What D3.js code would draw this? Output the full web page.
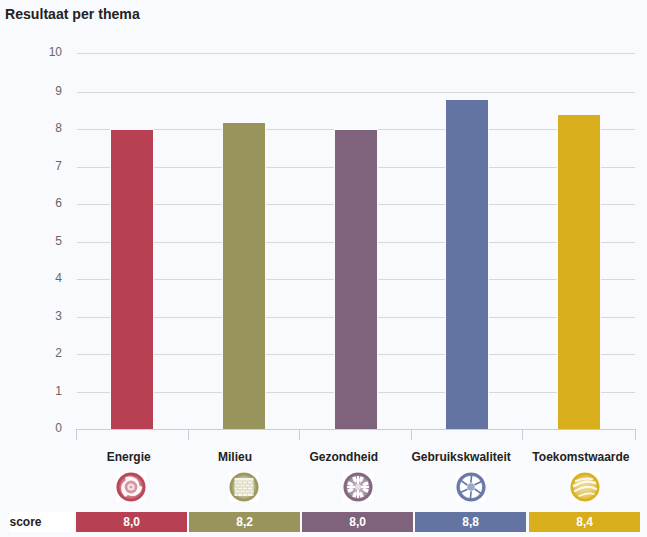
<!DOCTYPE html>
<html><head><meta charset="utf-8">
<script src="https://cdn.jsdelivr.net/npm/d3@7"></script>
<style>
html,body{margin:0;padding:0;background:#f9fafd;}
svg{display:block;font-family:"Liberation Sans",Arial,sans-serif;}
</style></head><body><div id="c"></div>
<script>
const title = "Resultaat per thema";
const categories = ["Energie","Milieu","Gezondheid","Gebruikskwaliteit","Toekomstwaarde"];
const values = [8.0,8.2,8.0,8.8,8.4];
const scoreLabels = ["8,0","8,2","8,0","8,8","8,4"];
const colors = ["#b74153","#99945b","#7f627c","#6374a3","#d8ae1c"];
const iconNames = ["energy","wall","health","shutter","sphere"];
const yTicks = [0,1,2,3,4,5,6,7,8,9,10];
const rowLabel = "score";

const BG="#f9fafd", W=647,H=537;
const svg=d3.select("#c").append("svg").attr("width",W).attr("height",H);
const defs=svg.append("defs");
const x=d3.scaleBand().domain(categories).range([76.5,635.5]);
const barW=42;
const axisX=d3.scaleBand().domain(categories).range([76.5,634.5]);
const y=d3.scaleLinear().domain([0,9,10]).range([429.5,92,53.5]);
const row=v=>Math.floor(y(v));
const cell=d3.scaleBand().domain(categories).range([76,640.6]).paddingInner(0.0176).paddingOuter(0);
const iconX=d3.scaleBand().domain(categories).range([74.25,641.75]);

svg.append("text").attr("x",5).attr("y",19).attr("font-size",14.1).attr("font-weight",700).attr("fill","#222").text(title);

svg.append("g").attr("shape-rendering","crispEdges").selectAll("line").data(yTicks.slice(1)).join("line")
 .attr("x1",77).attr("x2",635).attr("y1",d=>row(d)+.5).attr("y2",d=>row(d)+.5)
 .attr("stroke","#d8d8d8").attr("stroke-width",1);
svg.append("g").selectAll("text").data(yTicks).join("text")
 .attr("x",62).attr("y",d=>row(d)+3).attr("text-anchor","end").attr("font-size",12).attr("fill","#666").text(d=>d);

const barX=d=>Math.floor(x(d)+x.bandwidth()/2-barW/2);
const bars=svg.append("g").attr("shape-rendering","crispEdges");
bars.selectAll("rect.gap").data(categories).join("rect").attr("class","gap")
 .attr("x",d=>barX(d)-1).attr("width",barW+2)
 .attr("y",(d,i)=>Math.ceil(y(values[i]))-1).attr("height",(d,i)=>429-Math.ceil(y(values[i]))+1)
 .attr("fill",BG);
bars.selectAll("rect.bar").data(categories).join("rect").attr("class","bar")
 .attr("x",barX).attr("width",barW)
 .attr("y",(d,i)=>Math.ceil(y(values[i]))).attr("height",(d,i)=>429-Math.ceil(y(values[i])))
 .attr("fill",(d,i)=>colors[i]);

const ag=svg.append("g").attr("shape-rendering","crispEdges").attr("transform","translate(0,429.5)");
ag.append("line").attr("x1",76).attr("x2",636).attr("stroke","#c0d0e0");
const edges=categories.map(c=>Math.floor(axisX(c))).concat([635]);
ag.selectAll("line.t").data(edges).join("line").attr("class","t")
 .attr("x1",d=>d+.5).attr("x2",d=>d+.5).attr("y1",0).attr("y2",10).attr("stroke","#c0d0e0");

const labelShift=[-3,-10,-14.5,-10.5,-4];
svg.append("g").selectAll("text").data(categories).join("text")
 .attr("x",(d,i)=>cell(d)+cell.bandwidth()/2+labelShift[i]).attr("y",461).attr("text-anchor","middle")
 .attr("font-size",12).attr("font-weight",700).attr("fill","#222").text(d=>d);

function drawIcon(g,name,c,i){
 const mix=t=>d3.interpolateRgb(c,"#fff")(t);
 const gid="ig"+i;
 const rg=defs.append("radialGradient").attr("id",gid);
 rg.append("stop").attr("offset","0%").attr("stop-color",mix(.55));
 rg.append("stop").attr("offset","70%").attr("stop-color",mix(.3));
 rg.append("stop").attr("offset","88%").attr("stop-color",c);
 rg.append("stop").attr("offset","100%").attr("stop-color",mix(.1));
 g.append("rect").attr("x",-15).attr("y",-15).attr("width",30).attr("height",30).attr("fill","#fff");
 g.append("circle").attr("r",14.6).attr("fill",`url(#${gid})`);
 const w="#fff";
 if(name==="energy"){
  const pts=d3.range(0,36).map(k=>{const a=k/36*2*Math.PI;const r=11.2-3*((k%12)/12);return [r*Math.cos(a),r*Math.sin(a)];});
  g.append("path").attr("d",d3.line().curve(d3.curveCatmullRomClosed)(pts)).attr("fill",w).attr("opacity",.95);
  g.append("circle").attr("r",6.4).attr("fill",mix(.45));
  g.append("circle").attr("r",3.6).attr("fill","#f6e6e8");
  g.append("circle").attr("r",1.6).attr("fill",mix(.5));
 } else if(name==="wall"){
  g.append("rect").attr("x",-9.5).attr("y",-9).attr("width",19).attr("height",18).attr("fill","#f6f5e9");
  d3.range(1,6).forEach(r=>{
   g.append("line").attr("x1",-9.5).attr("x2",9.5).attr("y1",-9+r*3).attr("y2",-9+r*3).attr("stroke",c).attr("stroke-width",.5).attr("opacity",.6);
   d3.range(-9+(r%2)*2.5,9.5,5).forEach(vx=>{
    g.append("line").attr("x1",vx).attr("x2",vx).attr("y1",-9+r*3).attr("y2",-6+r*3).attr("stroke",c).attr("stroke-width",.5).attr("opacity",.45);
   });
  });
 } else if(name==="health"){
  d3.range(8).forEach(k=>{
   const p=g.append("g").attr("transform",`rotate(${k*45+22.5})`);
   p.append("path").attr("d","M-1.8,-11 L1.8,-11 L1.8,-7 L0,-4.5 L-1.8,-7 Z").attr("fill",w);
  });
  d3.range(4).forEach(k=>{
   g.append("path").attr("transform",`rotate(${k*90})`).attr("d","M-1,-3 L1,-3 L1,-11 L-1,-11 Z").attr("fill",w);
  });
  g.append("circle").attr("r",3).attr("fill","#e6dfe5");
 } else if(name==="shutter"){
  g.append("circle").attr("r",11).attr("fill",w);
  d3.range(6).forEach(k=>{
   g.append("path").attr("transform",`rotate(${k*60})`).attr("d","M3.6,-2.2 L10.5,-5.4").attr("stroke",c).attr("stroke-width",1.6).attr("fill","none");
  });
  g.append("circle").attr("r",3.8).attr("fill","#9ba8cb");
 } else {
  [[-9,-6,-1,-9.5,7,-8,2.2],[-11,-1,0,-8,10,-4,2.8],[-10,4,2,-3,11,2,2.4],[-6,9,3,5,9,7,1.6]].forEach(b=>{
   g.append("path").attr("d",`M${b[0]},${b[1]} Q${b[2]},${b[3]} ${b[4]},${b[5]}`)
    .attr("fill","none").attr("stroke",w).attr("stroke-width",b[6]).attr("opacity",.85).attr("stroke-linecap","round");
  });
 }
}
categories.forEach((c,i)=>{
 const g=svg.append("g").attr("transform",`translate(${Math.floor(iconX(c)+iconX.bandwidth()/2)},487)`);
 drawIcon(g,iconNames[i],colors[i],i);
});

svg.append("rect").attr("x",9).attr("y",512).attr("width",65).attr("height",20).attr("fill","#fff");
svg.append("text").attr("x",9.5).attr("y",526).attr("font-size",12).attr("font-weight",700).attr("fill","#222").text(rowLabel);
svg.append("g").attr("shape-rendering","crispEdges").selectAll("rect").data(categories).join("rect")
 .attr("x",d=>Math.floor(cell(d))).attr("width",Math.round(cell.bandwidth())).attr("y",512).attr("height",20)
 .attr("fill",(d,i)=>colors[i]);
svg.append("g").selectAll("text").data(categories).join("text")
 .attr("x",d=>Math.floor(cell(d))+cell.bandwidth()/2).attr("y",526).attr("text-anchor","middle")
 .attr("font-size",12).attr("font-weight",700).attr("fill","#fff").text((d,i)=>scoreLabels[i]);
</script></body></html>
